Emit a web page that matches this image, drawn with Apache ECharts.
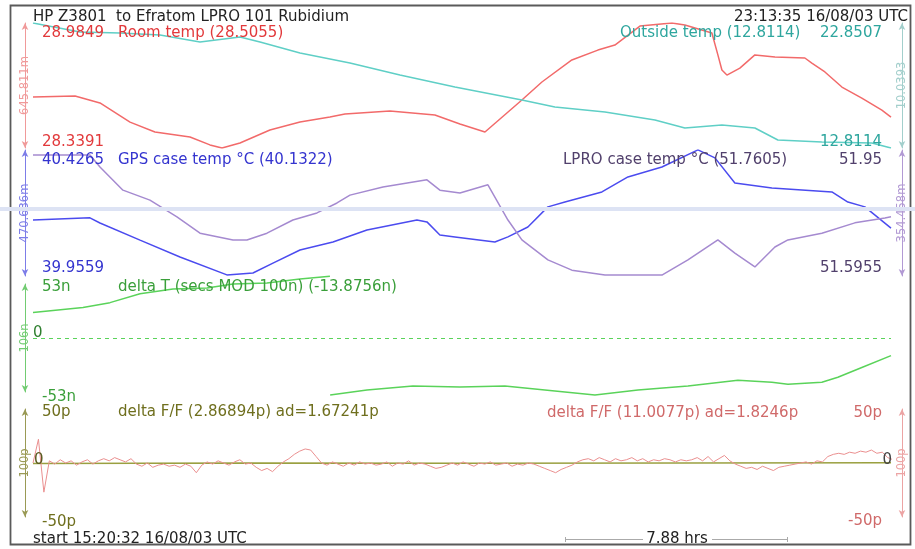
<!DOCTYPE html>
<html>
<head>
<meta charset="utf-8">
<script src="https://cdn.jsdelivr.net/npm/echarts@6/dist/echarts.min.js"></script>
<style>
html, body { margin: 0; background: #fff; }
#chart { width: 915px; height: 549px; }
</style>
</head>
<body>
<div id="chart"></div>
<script>
// run length in hours, x axis of every panel
const SPAN_HRS = 7.88;

// [hours, degC]
const roomTemp = [[0, 28.603], [0.386, 28.608], [0.615, 28.572], [0.891, 28.473], [1.12, 28.422], [1.442, 28.396],
  [1.625, 28.355], [1.736, 28.339], [1.901, 28.365], [2.176, 28.432], [2.452, 28.473], [2.727, 28.499],
  [2.865, 28.515], [3.278, 28.53], [3.691, 28.51], [3.921, 28.463], [4.151, 28.422], [4.49, 28.587],
  [4.674, 28.68], [4.949, 28.794], [5.188, 28.845], [5.344, 28.871], [5.574, 28.969], [5.868, 28.985],
  [5.987, 28.975], [6.235, 28.933], [6.29, 28.82], [6.327, 28.742], [6.373, 28.716], [6.492, 28.752],
  [6.63, 28.82], [6.814, 28.809], [7.089, 28.804], [7.153, 28.778], [7.273, 28.732], [7.429, 28.654],
  [7.612, 28.597], [7.796, 28.535], [7.88, 28.499]];

const outsideTemp = [[0, 22.851], [0.432, 22.128], [0.799, 22.048], [1.166, 21.887], [1.534, 21.325], [1.901, 21.727],
  [2.085, 21.325], [2.452, 20.441], [2.911, 19.638], [3.37, 18.674], [3.875, 17.711], [4.49, 16.667],
  [4.793, 16.104], [5.253, 15.703], [5.712, 15.06], [5.987, 14.418], [6.327, 14.659], [6.63, 14.418],
  [6.841, 13.454], [7.245, 13.293], [7.704, 13.213], [7.88, 12.811]];

const gpsTemp = [[0, 40.165], [0.523, 40.173], [0.615, 40.154], [0.983, 40.09], [1.35, 40.027], [1.781, 39.96],
  [2.02, 39.967], [2.204, 40.004], [2.452, 40.053], [2.755, 40.083], [3.067, 40.128], [3.526, 40.165],
  [3.618, 40.158], [3.737, 40.109], [3.875, 40.102], [4.242, 40.083], [4.362, 40.102], [4.545, 40.139],
  [4.729, 40.214], [4.885, 40.232], [5.225, 40.27], [5.464, 40.326], [5.776, 40.363], [6.107, 40.427],
  [6.263, 40.397], [6.446, 40.303], [6.786, 40.285], [7.337, 40.27], [7.484, 40.232], [7.64, 40.214],
  [7.88, 40.135]];

const lproTemp = [[0, 51.936], [0.523, 51.936], [0.615, 51.902], [0.826, 51.837], [1.074, 51.809], [1.322, 51.762],
  [1.534, 51.716], [1.837, 51.697], [1.965, 51.697], [2.149, 51.716], [2.387, 51.753], [2.608, 51.773],
  [2.792, 51.801], [2.911, 51.823], [3.214, 51.846], [3.618, 51.866], [3.737, 51.837], [3.921, 51.829],
  [4.178, 51.852], [4.362, 51.753], [4.49, 51.697], [4.729, 51.641], [4.949, 51.612], [5.253, 51.598],
  [5.776, 51.598], [6.015, 51.641], [6.29, 51.697], [6.446, 51.66], [6.63, 51.621], [6.814, 51.677],
  [6.933, 51.697], [7.245, 51.716], [7.548, 51.745], [7.824, 51.759], [7.88, 51.762]];

// ns, wraps MOD 100n (null = break)
const deltaT = [[0, 25.1], [0.459, 29.9], [0.707, 34.7], [0.983, 43.4], [1.286, 48.2], [1.598, 49.1],
  [1.837, 53.0], [2.149, 54.0], [2.452, 57.8], [2.727, 60.7], [2.728, null],
  [2.729, -55.9], [3.067, -51.1], [3.489, -47.2], [3.921, -48.2], [4.334, -47.2], [4.793, -52.0],
  [5.161, -55.9], [5.556, -51.1], [6.015, -47.2], [6.474, -41.4], [6.786, -43.4], [6.933, -45.3],
  [7.245, -43.4], [7.392, -38.5], [7.612, -28.9], [7.88, -17.3]];

// delta F/F in p
const ffOlive = [[0, -0.4], [2, 0], [4, -0.3], [6, 0], [7.88, 0.3]];
const FF_STEP_HRS = 0.05;
const ffPink = [0, 22, -27, 2, -1, 3, 0, 2, -2, 1, 3, -1, 2,
  4, 2, 5, 3, 1, 4,
  -1, -3, 0, -4, -2, -1, -3, -2, -4, -1, -3, -9,
  -2, 1, -1, 2, 0, -2, 1, 3, -1, 0,
  -4, -7, -5, -8, -3, 1, 4,
  8, 11, 13, 12, 6,
  0, -2, 1, -1, -3, 0, -2, 1, -1, 0, -2, -1, 1, -3, 0, -1, 2, -2, 0, -1,
  -3, -5, -4, -2,
  0, -2, 1, -1, -3, 0, -1, 1, -2, -1, 0, -3, -1, -2, 0, -1,
  -3, -5, -7, -9, -6, -4, -2,
  1, 3, 4, 2, 5, 3, 1, 4, 2, 3, 5, 2, 4, 1, 3, 2, 4, 3, 1, 3, 2,
  3, 5, 2, 6, 1, 4, 7, 2,
  -1, -3, -5, -4, -6, -3, -5, -7, -4, -3, -2, -1,
  0, 1, -1, 2, 1,
  6, 8, 9, 8, 10, 9, 11, 10, 12, 9, 10, 5, 3];

const FONT = '"DejaVu Sans", "Liberation Sans", sans-serif';

const C = {
  red: '#f26a6a', redTxt: '#e2393b', redAx: '#f09a9a',
  cyan: '#5fcfc6', cyanTxt: '#2ea69e', cyanAx: '#a3cfcc',
  blue: '#4b4bef', blueTxt: '#3434cf', blueAx: '#7d7de8',
  purple: '#a58ad0', purpleTxt: '#51406c', purpleAx: '#b29ad4',
  green: '#5ad35a', greenTxt: '#3a9f3a', greenAx: '#72cc72',
  olive: '#9aa040', oliveTxt: '#6f6f1e', oliveAx: '#9a9a55',
  pink: '#ea8f8f', pinkTxt: '#d06a6a', pinkAx: '#eca4a4'
};

const grids = [
  { left: 33, right: 24, top: 23, height: 125 },
  { left: 33, right: 24, top: 150, height: 126 },
  { left: 33, right: 24, top: 284, height: 108 },
  { left: 33, right: 24, top: 409, height: 108 }
].map(g => Object.assign(g, { outerBoundsMode: 'none', containLabel: false }));

function sideAxis(grid, pos, min, max, name, color) {
  return {
    type: 'value', gridIndex: grid, position: pos, min: min, max: max,
    offset: pos === 'left' ? 8 : 11,
    axisLine: { show: true, onZero: false, symbol: ['arrow', 'arrow'], symbolSize: [5, 7], lineStyle: { color: color, width: 1 } },
    axisTick: { show: false }, axisLabel: { show: false }, splitLine: { show: false },
    name: name, nameLocation: 'middle', nameGap: 0, nameRotate: 90, nameMoveOverlap: false,
    nameTextStyle: { color: color, fontSize: 11.5, fontFamily: FONT, align: 'center', verticalAlign: 'middle', backgroundColor: '#fff', padding: [0, 3] }
  };
}

function line(name, x, y, data, color, extra) {
  return Object.assign({
    type: 'line', name: name, xAxisIndex: x, yAxisIndex: y, data: data,
    showSymbol: false, symbol: 'none', animation: false, silent: true,
    lineStyle: { color: color, width: 1.5 }, itemStyle: { color: color }
  }, extra || {});
}

function label(x, y, text, fill, align) {
  return { type: 'text', x: x, y: y, z: 50,
    style: { text: text, fill: fill, align: align || 'left', verticalAlign: 'middle', fontSize: 15, fontFamily: FONT } };
}

const chart = echarts.init(document.getElementById('chart'));

chart.setOption({
  backgroundColor: '#fff',
  animation: false,
  grid: grids,
  xAxis: grids.map((g, i) => ({ type: 'value', gridIndex: i, min: 0, max: SPAN_HRS, show: false })),
  yAxis: [
    sideAxis(0, 'left', 28.3391, 28.9849, '645.811m', C.redAx),
    sideAxis(0, 'right', 12.8114, 22.8507, '10.0393', C.cyanAx),
    sideAxis(1, 'left', 39.9559, 40.4265, '470.636m', C.blueAx),
    sideAxis(1, 'right', 51.5955, 51.95, '354.458m', C.purpleAx),
    sideAxis(2, 'left', -53, 53, '106n', C.greenAx),
    sideAxis(3, 'left', -50, 50, '100p', C.oliveAx),
    sideAxis(3, 'right', -50, 50, '100p', C.pinkAx)
  ],
  series: [
    line('Room temp', 0, 0, roomTemp, C.red),
    line('Outside temp', 0, 1, outsideTemp, C.cyan),
    line('GPS case temp', 1, 2, gpsTemp, C.blue),
    line('LPRO case temp', 1, 3, lproTemp, C.purple),
    line('delta T', 2, 4, deltaT, C.green, {
      clip: false, connectNulls: false,
      markLine: { silent: true, symbol: 'none', animation: false, label: { show: false },
        lineStyle: { type: [4, 4], color: C.green, width: 1 }, data: [{ yAxis: 0 }] }
    }),
    line('delta F/F olive', 3, 5, ffOlive, C.olive),
    line('delta F/F', 3, 6, ffPink.map((v, i) => [i * FF_STEP_HRS, v]), C.pink, { lineStyle: { color: C.pink, width: 1 } })
  ],
  graphic: [
    { type: 'rect', z: 1, shape: { x: 10.5, y: 5.5, width: 900, height: 539 }, style: { fill: 'none', stroke: '#5a5a5a', lineWidth: 1.8 } },
    { type: 'rect', z: 100, shape: { x: 0, y: 207, width: 915, height: 4 }, style: { fill: '#dde3f4' } },
    { type: 'line', z: 1, shape: { x1: 565, y1: 539.5, x2: 643, y2: 539.5 }, style: { stroke: '#aaa', lineWidth: 1 } },
    { type: 'line', z: 1, shape: { x1: 712, y1: 539.5, x2: 788, y2: 539.5 }, style: { stroke: '#aaa', lineWidth: 1 } },
    { type: 'line', z: 1, shape: { x1: 565.5, y1: 537, x2: 565.5, y2: 542 }, style: { stroke: '#aaa', lineWidth: 1 } },
    { type: 'line', z: 1, shape: { x1: 787.5, y1: 537, x2: 787.5, y2: 542 }, style: { stroke: '#aaa', lineWidth: 1 } },
    label(33, 17, 'HP Z3801  to Efratom LPRO 101 Rubidium', '#222'),
    label(908, 17, '23:13:35 16/08/03 UTC', '#222', 'right'),
    label(42, 33, '28.9849', C.redTxt),
    label(118, 33, 'Room temp (28.5055)', C.redTxt),
    label(620, 33, 'Outside temp (12.8114)', C.cyanTxt),
    label(882, 33, '22.8507', C.cyanTxt, 'right'),
    label(42, 142, '28.3391', C.redTxt),
    label(882, 142, '12.8114', C.cyanTxt, 'right'),
    label(42, 160, '40.4265', C.blueTxt),
    label(118, 160, 'GPS case temp °C (40.1322)', C.blueTxt),
    label(563, 160, 'LPRO case temp °C (51.7605)', C.purpleTxt),
    label(882, 160, '51.95', C.purpleTxt, 'right'),
    label(42, 268, '39.9559', C.blueTxt),
    label(882, 268, '51.5955', C.purpleTxt, 'right'),
    label(42, 287, '53n', C.greenTxt),
    label(118, 287, 'delta T (secs MOD 100n) (-13.8756n)', C.greenTxt),
    label(33, 333, '0', '#2f7f2f'),
    label(42, 397, '-53n', C.greenTxt),
    label(42, 412, '50p', C.oliveTxt),
    label(118, 412, 'delta F/F (2.86894p) ad=1.67241p', C.oliveTxt),
    label(547, 413, 'delta F/F (11.0077p) ad=1.8246p', C.pinkTxt),
    label(882, 413, '50p', C.pinkTxt, 'right'),
    label(34, 460, '0', '#5a5a20'),
    label(892, 460, '0', '#444', 'right'),
    label(42, 522, '-50p', C.oliveTxt),
    label(882, 521, '-50p', C.pinkTxt, 'right'),
    label(33, 539, 'start 15:20:32 16/08/03 UTC', '#222'),
    label(677, 539, '7.88 hrs', '#222', 'center')
  ]
});
</script>
</body>
</html>
